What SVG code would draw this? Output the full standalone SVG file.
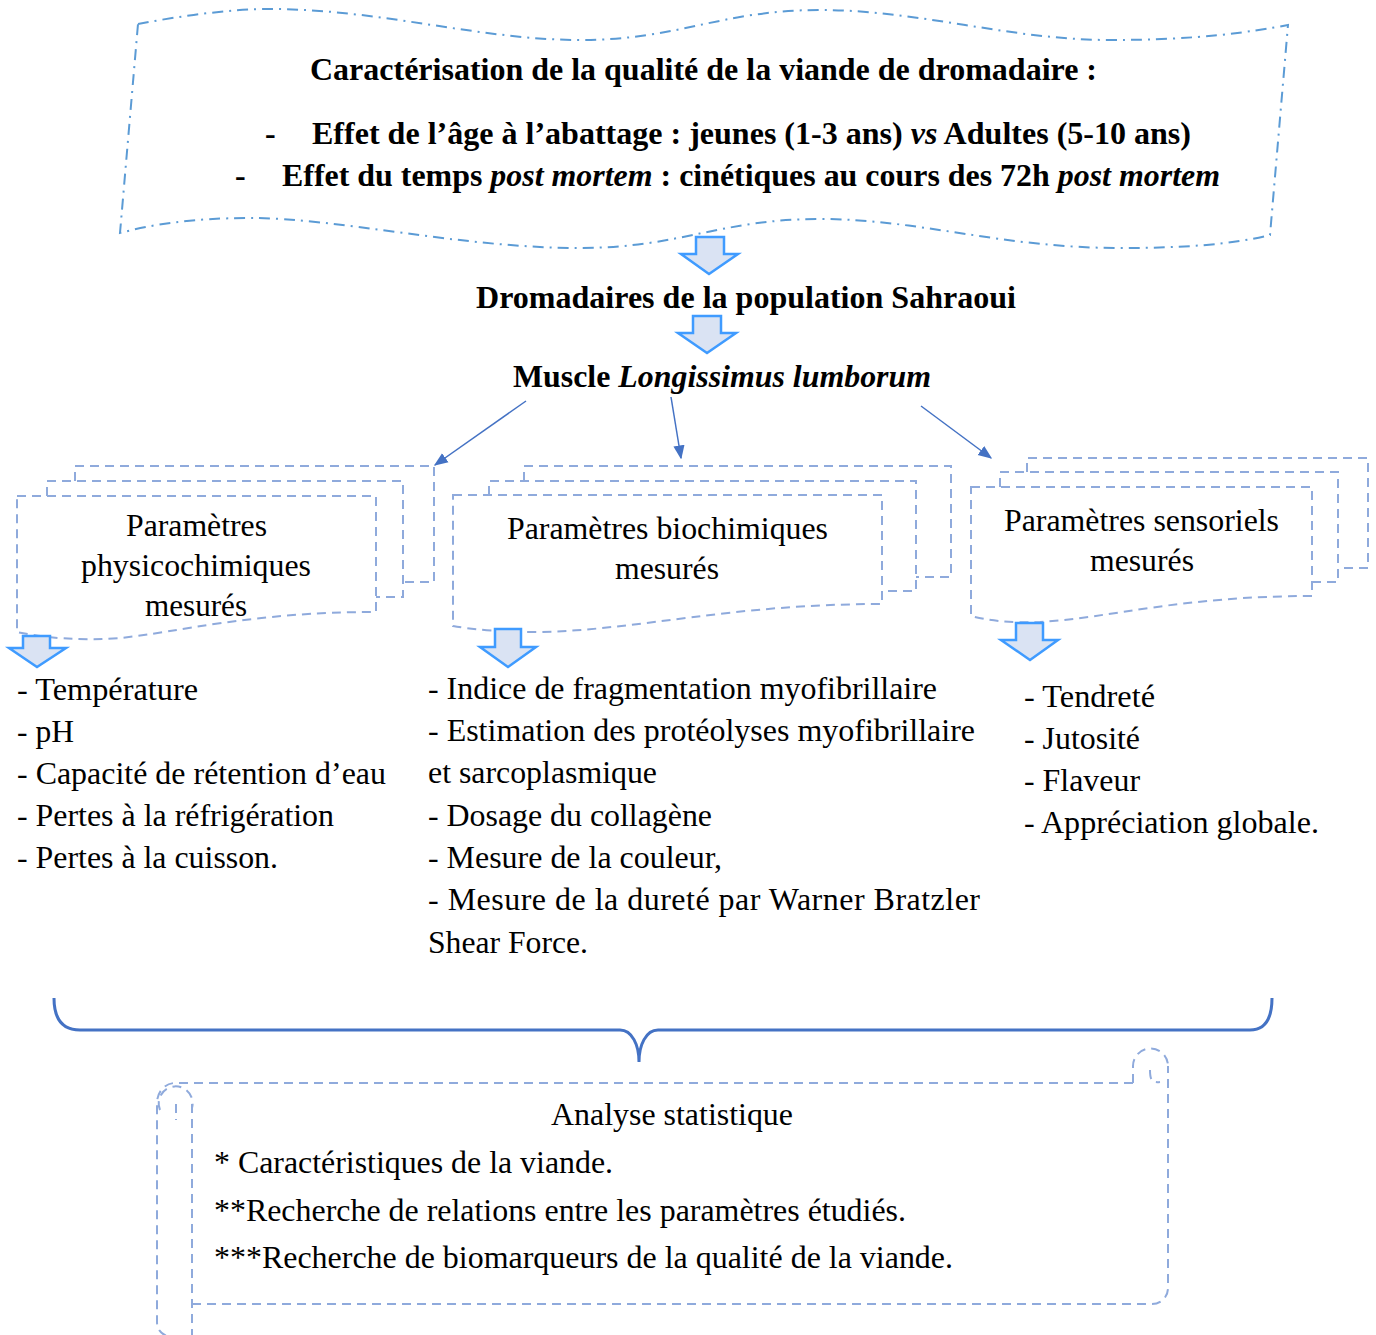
<svg xmlns="http://www.w3.org/2000/svg" width="1376" height="1335" viewBox="0 0 1376 1335">
<style>
.t{font-family:"Liberation Serif","Times New Roman",serif;font-size:32px;fill:#000}
.b{font-weight:bold}
.i{font-style:italic}
.doc{fill:#fff;stroke:#8FAADC;stroke-width:2;stroke-dasharray:9 6}
.banner{fill:#fff;stroke:#5B9BD5;stroke-width:2;stroke-dasharray:11 6 2 6}
.barrow{fill:#DAE3F3;stroke:#3F9BFF;stroke-width:2.5;stroke-linejoin:miter}
.conn{stroke:#4472C4;stroke-width:1.5;fill:none}
.brace{stroke:#4472C4;stroke-width:3;fill:none}
.scroll{fill:none;stroke:#8FAADC;stroke-width:2;stroke-dasharray:9 6}
</style>
<defs>
<marker id="ah2" viewBox="0 0 10 10" refX="9" refY="5" markerWidth="14" markerHeight="14" markerUnits="userSpaceOnUse" orient="auto">
<path d="M0,1 L10,5 L0,9 Z" fill="#4472C4"/>
</marker>
</defs>

<g id="banner">
<path class="banner" d="M138,24 C180,16 230,9 270,9 C380,9 480,40 580,40 C680,40 720,10 820,10 C920,10 1010,40 1110,40 C1200,40 1250,32 1288,25 L1270,235 C1230,245 1180,248 1120,248 C1000,248 920,219 820,219 C720,219 680,248 580,248 C460,248 340,218 250,218 C190,218 150,225 120,233 Z"/>
<text class="t b" x="310" y="80" textLength="787" lengthAdjust="spacingAndGlyphs">Caractérisation de la qualité de la viande de dromadaire :</text>
<text class="t b" x="265" y="144">-</text>
<text class="t b" x="312" y="144" textLength="879" lengthAdjust="spacingAndGlyphs">Effet de l’âge à l’abattage : jeunes (1-3 ans) <tspan class="i">vs</tspan> Adultes (5-10 ans)</text>
<text class="t b" x="235" y="186">-</text>
<text class="t b" x="282" y="186" textLength="938" lengthAdjust="spacingAndGlyphs">Effet du temps <tspan class="i">post mortem</tspan> : cinétiques au cours des 72h <tspan class="i">post mortem</tspan></text>
</g>

<g id="arrow1"><path class="barrow" d="M696,237 L724,237 L724,254 L738,254 L709,274 L681,254 L696,254 Z"/></g>

<g id="population">
<text class="t b" x="476" y="308" textLength="540" lengthAdjust="spacingAndGlyphs">Dromadaires de la population Sahraoui</text>
</g>

<g id="arrow2"><path class="barrow" d="M693,316 L721,316 L721,333 L736,333 L707,353 L678,333 L693,333 Z"/></g>

<g id="muscle">
<text class="t b" x="513" y="387" textLength="418" lengthAdjust="spacingAndGlyphs">Muscle <tspan class="i">Longissimus lumborum</tspan></text>
</g>

<g id="connectors">
<line class="conn" x1="526" y1="401" x2="435" y2="465" marker-end="url(#ah2)"/>
<line class="conn" x1="671" y1="397" x2="681" y2="458" marker-end="url(#ah2)"/>
<line class="conn" x1="921" y1="406" x2="991" y2="458" marker-end="url(#ah2)"/>
</g>

<g id="physico">
<path class="doc" d="M75,481 L75,466 L434,466 L434,582 L403,582"/>
<path class="doc" d="M47,496 L47,481 L403,481 L403,597 L376,597"/>
<path class="doc" d="M17,496 L376,496 L376,612 C250,612 180,632 120,638 C80,641 45,638 17,632 Z"/>
<text class="t" x="126" y="536" textLength="141" lengthAdjust="spacingAndGlyphs">Paramètres</text>
<text class="t" x="81" y="576" textLength="230" lengthAdjust="spacingAndGlyphs">physicochimiques</text>
<text class="t" x="145" y="616" textLength="102" lengthAdjust="spacingAndGlyphs">mesurés</text>
</g>

<g id="biochim">
<path class="doc" d="M524,481 L524,466 L951,466 L951,577 L916,577"/>
<path class="doc" d="M489,495 L489,481 L916,481 L916,591 L882,591"/>
<path class="doc" d="M453,495 L882,495 L882,604 C730,604 640,630 540,632 C505,632 475,630 453,626 Z"/>
<text class="t" x="507" y="539" textLength="321" lengthAdjust="spacingAndGlyphs">Paramètres biochimiques</text>
<text class="t" x="615" y="579" textLength="104" lengthAdjust="spacingAndGlyphs">mesurés</text>
</g>

<g id="sensoriel">
<path class="doc" d="M1027,472 L1027,458 L1368,458 L1368,568 L1340,568"/>
<path class="doc" d="M1000,487 L1000,472 L1338,472 L1338,582 L1312,582"/>
<path class="doc" d="M971,487 L1312,487 L1312,596 C1180,596 1110,618 1040,622 C1010,623 990,621 971,616 Z"/>
<text class="t" x="1004" y="531" textLength="275" lengthAdjust="spacingAndGlyphs">Paramètres sensoriels</text>
<text class="t" x="1090" y="571" textLength="104" lengthAdjust="spacingAndGlyphs">mesurés</text>
</g>

<g id="arrow3"><path class="barrow" d="M23,636 L50,636 L50,648 L66,648 L37,667 L9,648 L23,648 Z"/></g>
<g id="arrow4"><path class="barrow" d="M495,629 L521,629 L521,647 L536,647 L508,667 L480,647 L495,647 Z"/></g>
<g id="arrow5"><path class="barrow" d="M1016,623 L1043,623 L1043,640 L1058,640 L1030,660 L1001,640 L1016,640 Z"/></g>

<g id="list-physico">
<text class="t" x="17" y="700" textLength="181" lengthAdjust="spacingAndGlyphs">- Température</text>
<text class="t" x="17" y="742" textLength="57" lengthAdjust="spacingAndGlyphs">- pH</text>
<text class="t" x="17" y="784" textLength="369" lengthAdjust="spacingAndGlyphs">- Capacité de rétention d’eau</text>
<text class="t" x="17" y="826" textLength="317" lengthAdjust="spacingAndGlyphs">- Pertes à la réfrigération</text>
<text class="t" x="17" y="868" textLength="261" lengthAdjust="spacingAndGlyphs">- Pertes à la cuisson.</text>
</g>

<g id="list-biochim">
<text class="t" x="428" y="699" textLength="509" lengthAdjust="spacingAndGlyphs">- Indice de fragmentation myofibrillaire</text>
<text class="t" x="428" y="741" textLength="547" lengthAdjust="spacingAndGlyphs">- Estimation des protéolyses myofibrillaire</text>
<text class="t" x="428" y="783" textLength="229" lengthAdjust="spacingAndGlyphs">et sarcoplasmique</text>
<text class="t" x="428" y="826" textLength="284" lengthAdjust="spacingAndGlyphs">- Dosage du collagène</text>
<text class="t" x="428" y="868" textLength="294" lengthAdjust="spacingAndGlyphs">- Mesure de la couleur,</text>
<text class="t" x="428" y="910" textLength="552" lengthAdjust="spacing">- Mesure de la dureté par Warner Bratzler</text>
<text class="t" x="428" y="953" textLength="160" lengthAdjust="spacingAndGlyphs">Shear Force.</text>
</g>

<g id="list-sensoriel">
<text class="t" x="1024" y="707" textLength="131" lengthAdjust="spacingAndGlyphs">- Tendreté</text>
<text class="t" x="1024" y="749" textLength="116" lengthAdjust="spacingAndGlyphs">- Jutosité</text>
<text class="t" x="1024" y="791" textLength="116" lengthAdjust="spacingAndGlyphs">- Flaveur</text>
<text class="t" x="1024" y="833" textLength="295" lengthAdjust="spacingAndGlyphs">- Appréciation globale.</text>
</g>

<g id="brace">
<path class="brace" d="M54,998 C54,1018 62,1030 80,1030 L620,1030 C632,1030 639,1045 639,1062 C639,1045 646,1030 658,1030 L1250,1030 C1265,1030 1272,1018 1272,998"/>
</g>

<g id="analyse">
<path class="scroll" d="M1133,1083 L175,1083 C165,1083 157,1092 157,1103 L157,1322 C157,1330 162,1335 170,1337"/>
<path class="scroll" d="M192,1104 L192,1337"/>
<path class="scroll" d="M192,1304 L1152,1304 C1161,1304 1168,1297 1168,1288 L1168,1066"/>
<path class="scroll" d="M160,1110 A17,17 0 1 1 192,1108"/>
<path class="scroll" d="M176,1104 L176,1120"/>
<path class="scroll" d="M1133,1083 L1133,1066 A17,17 0 1 1 1168,1066"/>
<path class="scroll" d="M1150,1070 C1150,1080 1152,1083 1160,1082"/>
<text class="t" x="551" y="1125" textLength="242" lengthAdjust="spacingAndGlyphs">Analyse statistique</text>
<text class="t" x="214" y="1173" textLength="399" lengthAdjust="spacingAndGlyphs">* Caractéristiques de la viande.</text>
<text class="t" x="214" y="1221" textLength="692" lengthAdjust="spacingAndGlyphs">**Recherche de relations entre les paramètres étudiés.</text>
<text class="t" x="214" y="1268" textLength="739" lengthAdjust="spacingAndGlyphs">***Recherche de biomarqueurs de la qualité de la viande.</text>
</g>
</svg>
